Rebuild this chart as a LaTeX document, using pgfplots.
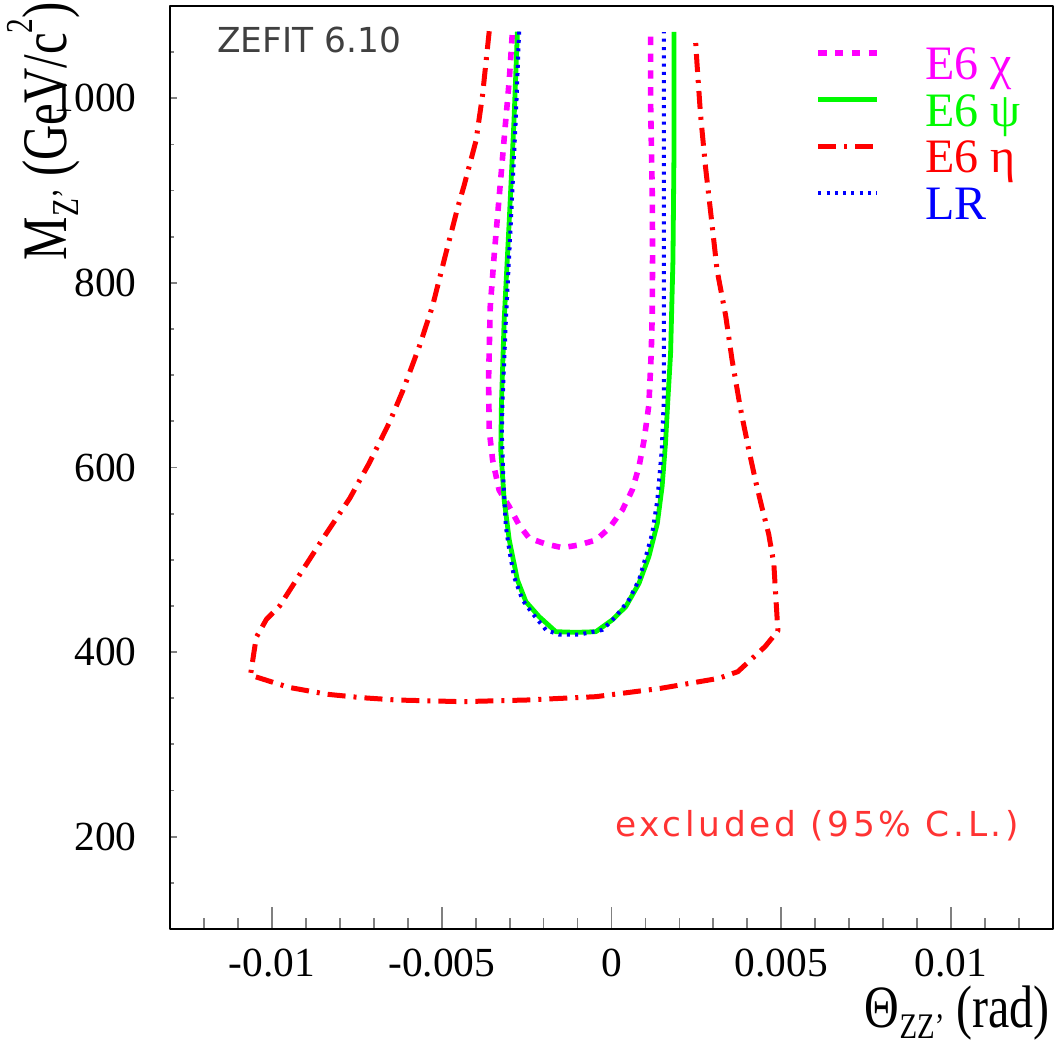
\documentclass[border=0pt]{standalone}
\usepackage{fontspec}
\setmainfont{Liberation Serif}
\newfontfamily\hershey{DejaVu Sans}
\newfontfamily\hersheyspaced{DejaVu Sans}[LetterSpace=10.5]
\usepackage{graphicx}
\usepackage{pgfplots}
\pgfplotsset{compat=1.18}
\definecolor{cmag}{RGB}{255,0,255}
\definecolor{cgrn}{RGB}{0,250,0}
\definecolor{cred}{RGB}{255,0,0}
\definecolor{cblu}{RGB}{0,0,255}
\newcommand\lowsub[1]{\raisebox{-0.18em}{\scalebox{0.6}{#1}}}
\newcommand\upsup[1]{\raisebox{0.55em}{\scalebox{0.6}{#1}}}
\begin{document}
\begin{tikzpicture}
\useasboundingbox (-85pt,-58pt) rectangle (443.5pt,464.5pt);
\begin{axis}[
  at={(0pt,0pt)}, anchor=south west,
  scale only axis, width=441.5pt, height=461.5pt,
  xmin=-0.013, xmax=0.013, ymin=100, ymax=1100,
  axis line style={line width=1.2pt},
  tick pos=left, tick align=inside,
  xtick={-0.01,-0.005,0,0.005,0.01},
  xticklabels={-0.01,-0.005,0,0.005,0.01},
  minor xtick={-0.012,-0.011,-0.009,-0.008,-0.007,-0.006,-0.004,-0.003,-0.002,-0.001,0.001,0.002,0.003,0.004,0.006,0.007,0.008,0.009,0.011,0.012},
  ytick={200,400,600,800,1000},
  yticklabels={200,400,600,800,1000},
  minor ytick={150,250,300,350,450,500,550,650,700,750,850,900,950,1050},
  scaled x ticks=false, scaled y ticks=false,
  major x tick style={/pgfplots/major tick length=11pt, line width=0.9pt},
  minor x tick style={/pgfplots/minor tick length=5.5pt, line width=0.9pt},
  major y tick style={/pgfplots/major tick length=3.5pt, line width=0.9pt},
  minor y tick style={/pgfplots/minor tick length=2pt, line width=0.9pt},
  xticklabel style={font=\fontsize{20.7pt}{20.7pt}\selectfont, anchor=north, inner sep=0pt, yshift=-10pt},
  yticklabel style={font=\fontsize{20.7pt}{20.7pt}\selectfont, anchor=east, inner sep=0pt, xshift=-16.5pt},
  legend style={draw=none, fill=none, at={(0.7305,0.9578)}, anchor=north west, inner sep=0pt,
    row sep=0pt, font=\fontsize{24pt}{24pt}\selectfont,
    nodes={inner sep=0pt, text height=17pt, text depth=6.35pt},
    /tikz/every odd column/.append style={column sep=22.5pt}},
  legend cell align=left,
  legend image code/.code={\draw[#1] (0pt,8pt) -- (29.5pt,8pt);},
  line join=round,
]
% E6 chi
\addplot[cmag, line width=2.8pt, dash pattern=on 4.2pt off 4.2pt] coordinates {
(0.00115,1066.7) (0.00115,998) (0.00120,897) (0.00121,832) (0.00120,767) (0.00117,723.7)
(0.00110,667.7) (0.00096,629.8) (0.00081,600.9) (0.00061,575.6) (0.00032,553.9)
(-0.00007,534.1) (-0.00046,521.4) (-0.00096,516) (-0.00145,513.1) (-0.00193,517.1)
(-0.00242,523.3) (-0.00272,537.7) (-0.00301,557.5) (-0.00331,575.6) (-0.00350,608)
(-0.00360,640) (-0.00362,694.8) (-0.00357,774.2) (-0.00345,832) (-0.00329,900.6)
(-0.00313,969.2) (-0.00301,1019.8) (-0.00292,1070.4)
};
\addlegendentry{\textcolor{cmag}{E6 χ}}
% E6 psi
\addplot[cgrn, line width=2.4pt] coordinates {
(-0.00277,1072.2) (-0.00287,976.5) (-0.00301,868.1) (-0.00316,759.8) (-0.00324,669.5)
(-0.00326,618.9) (-0.00316,564.8) (-0.00301,521.4) (-0.00277,478.1) (-0.00252,454.6)
(-0.00213,438.4) (-0.00164,422.1) (-0.00105,421.4) (-0.00046,422.1) (0.00002,434.8)
(0.00042,449.2) (0.00081,474.5) (0.00110,503.4) (0.00135,539.5) (0.00149,579.3)
(0.00159,626.2) (0.00166,673) (0.00174,723.7) (0.00181,824.8) (0.00184,940) (0.00184,1072)
};
\addlegendentry{\textcolor{cgrn}{E6 ψ}}
% E6 eta
\addplot[cred, line width=2.5pt, dash pattern=on 9pt off 4pt on 1.5pt off 4pt] coordinates {
(-0.00360,1072.7) (-0.00380,1002.5) (-0.00399,954) (-0.00434,905.5) (-0.00453,881.4)
(-0.00487,833) (-0.00527,774.8) (-0.00566,731) (-0.00615,682.7) (-0.00654,648.7)
(-0.00713,605) (-0.00771,566.4) (-0.00850,522.8) (-0.00918,484) (-0.00977,450)
(-0.01016,435.5) (-0.01046,416) (-0.01056,392) (-0.01063,375)
(-0.00950,361.8) (-0.00837,354.3) (-0.00735,350.6) (-0.00634,348.1) (-0.00441,346.3)
(-0.00249,348.1) (-0.00046,351.7) (0.00146,360.8) (0.00316,371.6) (0.00372,378.8)
(0.00452,405.9) (0.00490,423) (0.00483,464.6) (0.00478,496) (0.00463,527.6)
(0.00443,556.7) (0.00424,585.8) (0.00404,619.7) (0.00380,663.4) (0.00355,716.6)
(0.00336,765) (0.00311,813.5) (0.00292,876.5) (0.00277,925) (0.00262,983)
(0.00252,1036.4) (0.00247,1065.4)
};
\addlegendentry{\textcolor{cred}{E6 η}}
% LR
\addplot[cblu, line width=2pt, dash pattern=on 1.5pt off 2.65pt] coordinates {
(-0.00272,1072.2) (-0.00282,976.5) (-0.00296,868.1) (-0.00311,759.8) (-0.00321,669.5)
(-0.00323,637) (-0.00318,582.9) (-0.00311,535.8) (-0.00301,510.6) (-0.00287,481.7)
(-0.00262,456.4) (-0.00233,442) (-0.00193,424) (-0.00154,418.9) (-0.00096,418.9)
(-0.00027,424) (0.00012,438.4) (0.00051,456.4) (0.00081,478.1) (0.00101,503.4)
(0.00120,528.7) (0.00135,564.8) (0.00148,619) (0.00154,673) (0.00154,889.8) (0.00154,1071.8)
};
\addlegendentry{\textcolor{cblu}{LR}}
\end{axis}
\node[anchor=base west, inner sep=0pt, text=black!75] at (23.5pt,438pt) {\hershey\fontsize{17.2pt}{17.2pt}\selectfont ZEFIT 6.10};
\node[anchor=base west, inner sep=0pt, text=cred!80] at (222.5pt,46.2pt) {\hersheyspaced\fontsize{17.2pt}{17.2pt}\selectfont excluded (95\% C.L.)};
\node[rotate=90, anchor=base east, inner sep=0pt] at (-51.5pt,463.5pt) {\fontsize{31.7pt}{31.7pt}\selectfont\scalebox{0.77}[1]{M\lowsub{Z'} (GeV/c\upsup{2})}};
\node[anchor=base east, inner sep=0pt] at (440pt,-49.5pt) {\fontsize{30pt}{30pt}\selectfont\scalebox{0.8}[1]{Θ\lowsub{ZZ'} (rad)}};
\end{tikzpicture}
\end{document}
